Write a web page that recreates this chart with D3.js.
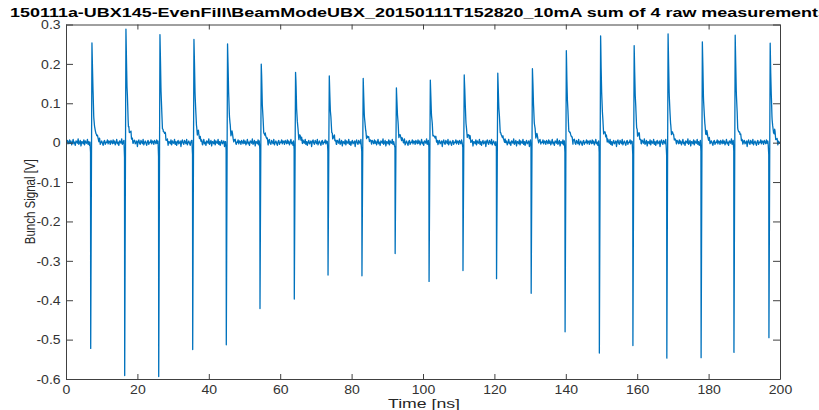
<!DOCTYPE html>
<html>
<head>
<meta charset="utf-8">
<script src="https://cdn.jsdelivr.net/npm/d3@7"></script>
<style>
  body { margin: 0; background: #fff; }
  text { font-family: "Liberation Sans", Arial, Helvetica, sans-serif; }
</style>
</head>
<body>
<div id="chart"></div>
<script>
// ticks
const xTicks = [0, 20, 40, 60, 80, 100, 120, 140, 160, 180, 200];
const yTicks = [0.3, 0.2, 0.1, 0, -0.1, -0.2, -0.3, -0.4, -0.5, -0.6];

// bunch pulses: time of the negative spike [ns], negative and positive peak [V]
const pulseT = [6.92, 16.44, 25.97, 35.49, 44.9, 54.34, 63.95, 73.4, 82.9, 92.2, 101.7,
  111.2, 120.6, 130.3, 139.8, 149.4, 158.8, 168.3, 177.9, 187.1, 196.9];
const negPeak = [-0.528, -0.583, -0.588, -0.521, -0.52, -0.421, -0.4, -0.332, -0.338, -0.283, -0.344,
  -0.329, -0.351, -0.381, -0.48, -0.537, -0.511, -0.547, -0.543, -0.538, -0.495];
const posPeak = [0.256, 0.287, 0.266, 0.262, 0.255, 0.201, 0.18, 0.168, 0.159, 0.142, 0.156,
  0.172, 0.175, 0.192, 0.225, 0.261, 0.245, 0.272, 0.256, 0.27, 0.244];

// pulse shape relative to the negative spike (fractions of the neg / pos peak)
const shapeT = [-0.2, -0.05, 0, 0.35, 0.5, 0.65, 0.85, 1.05, 1.3, 1.6, 1.9, 2.3, 2.8];
const shapeNeg = [0, 0.05, 1, 0, 0, 0, 0, 0, 0, 0, 0, 0, 0];
const shapePos = [0, 0, 0, 1, 0.74, 0.5, 0.3, 0.16, 0.09, 0.1, 0.05, 0.02, 0];

// baseline wiggle [mV], sampled every 0.2 ns and repeated
const noise = [2, -3, 4, 1, -2, 5, -1, 3, -4, 0, 6, -2, 1, -5, 3, 2, -1, 7, -3, 0, 4, -6, 2, 1, -2, 5,
  -4, 3, 0, -1, 6, -3, 2, -5, 1, 4, -2, 0, 3, -7, 2, 5, -1, -3, 4, 1, -2, 6, -4, 0, 3, -1, -5, 2, 4,
  -3, 1, 0, 5, -2, 3];
const step = 0.2;

const width = 819,
  height = 410;
const x = d3.scaleLinear().domain([0, 200]).range([66, 780]);
const y = d3.scaleLinear().domain([-0.6, 0.3]).range([379, 24.5]);

const svg = d3.select("#chart").append("svg").attr("width", width).attr("height", height);

// build the trace
const pulses = pulseT.map((t, i) =>
  d3.scaleLinear()
    .domain(shapeT.map((s) => t + s))
    .range(shapeT.map((s, j) => shapeNeg[j] * negPeak[i] + shapePos[j] * posPeak[i]))
    .clamp(true)
);
const noiseAt = (t) => noise[Math.round(t / step) % noise.length] * 0.0014;
const signal = (t) => noiseAt(t) + d3.sum(pulses, (p) => p(t));

let times = d3.range(0, 200 + step / 2, step);
pulseT.forEach((t) => shapeT.forEach((s) => times.push(t + s)));
times = times.filter((t) => t >= 0 && t <= 200).sort((a, b) => a - b);
const trace = times.map((t) => [t, signal(t)]);

svg.append("clipPath").attr("id", "clip")
  .append("rect").attr("x", x(0)).attr("y", y(0.3)).attr("width", x(200) - x(0)).attr("height", y(-0.6) - y(0.3));

svg.append("path")
  .datum(trace)
  .attr("clip-path", "url(#clip)")
  .attr("fill", "none")
  .attr("stroke", "#0072BD")
  .attr("stroke-width", 1.3)
  .attr("stroke-linejoin", "round")
  .attr("d", d3.line().x((d) => x(d[0])).y((d) => y(d[1])));

// axes, MATLAB style box with inward ticks
const fmt = (d) => (d === 0 ? "0" : d.toFixed(1));
const axisColor = "#262626";

const gBottom = svg.append("g").attr("transform", `translate(0,${y(-0.6)})`)
  .call(d3.axisBottom(x).tickValues(xTicks).tickSizeInner(-5).tickSizeOuter(0).tickPadding(6));
const gTop = svg.append("g").attr("transform", `translate(0,${y(0.3)})`)
  .call(d3.axisTop(x).tickValues(xTicks).tickSizeInner(-5).tickSizeOuter(0).tickFormat(""));
const gLeft = svg.append("g").attr("transform", `translate(${x(0)},0)`)
  .call(d3.axisLeft(y).tickValues(yTicks).tickSizeInner(-7).tickSizeOuter(0).tickPadding(5).tickFormat(fmt));
const gRight = svg.append("g").attr("transform", `translate(${x(200)},0)`)
  .call(d3.axisRight(y).tickValues(yTicks).tickSizeInner(-7).tickSizeOuter(0).tickFormat(""));

[gBottom, gTop, gLeft, gRight].forEach((g) => {
  g.attr("color", axisColor);
  g.select(".domain").attr("stroke", "#404040");
  g.selectAll(".tick line").attr("stroke", "#404040");
  g.selectAll(".tick text")
    .attr("font-size", 13)
    .attr("fill", "#333")
    .attr("font-family", "Liberation Sans, Arial, sans-serif")
    .attr("transform", "scale(1.08,1)");
});

// title
svg.append("text")
  .attr("x", 10)
  .attr("y", 17)
  .attr("font-size", 13.5)
  .attr("font-weight", "bold")
  .attr("fill", "#000")
  .attr("textLength", 818)
  .attr("lengthAdjust", "spacingAndGlyphs")
  .text("150111a-UBX145-EvenFill\\BeamModeUBX_20150111T152820_10mA sum of 4 raw measurements");

// axis labels
svg.append("text")
  .attr("x", 424)
  .attr("y", 408)
  .attr("text-anchor", "middle")
  .attr("font-size", 13)
  .attr("fill", axisColor)
  .attr("textLength", 72)
  .attr("lengthAdjust", "spacingAndGlyphs")
  .text("Time [ns]");

svg.append("text")
  .attr("transform", `translate(35,${(y(0.3) + y(-0.6)) / 2}) scale(1.12,1) rotate(-90)`)
  .attr("text-anchor", "middle")
  .attr("font-size", 13.5)
  .attr("fill", axisColor)
  .attr("textLength", 85)
  .attr("lengthAdjust", "spacingAndGlyphs")
  .text("Bunch Signal [V]");
</script>
</body>
</html>
